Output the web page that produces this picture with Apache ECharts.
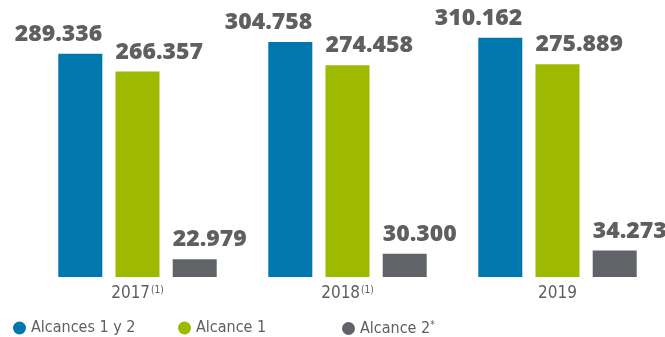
<!DOCTYPE html>
<html>
<head>
<meta charset="utf-8">
<script src="https://cdn.jsdelivr.net/npm/echarts@6/dist/echarts.min.js"></script>
<style>
  html, body { margin: 0; padding: 0; background: #ffffff; }
  #chart { width: 665px; height: 337px; }
</style>
</head>
<body>
<div id="chart"></div>
<script>
// Emissions by year, per scope (tCO2e)
const years = ['2017', '2018', '2019'];
const yearNotes = ['(1)', '(1)', ''];
const alcances12 = [289336, 304758, 310162];
const alcance1 = [266357, 274458, 275889];
const alcance2 = [22979, 30300, 34273];

const seriesNames = ['Alcances 1 y 2', 'Alcance 1', 'Alcance 2'];
const colors = ['#0077ad', '#9db900', '#606368'];
const textGrey = '#5e5f61';
const narrow = '"DejaVu Sans Condensed", "Liberation Sans Narrow", sans-serif';

// 289336 -> "289.336"
function fmt(v) {
  return String(v).replace(/\B(?=(\d{3})+(?!\d))/g, '.');
}

function valueLabel(align, dx) {
  return {
    show: true,
    position: 'top',
    distance: 8,
    align: align,
    offset: [dx, 0],
    color: textGrey,
    fontFamily: '"Open Sans", sans-serif',
    fontWeight: 800,
    fontSize: 23,
    formatter: p => fmt(p.value)
  };
}

function legendFor(name, left, withStar) {
  return {
    data: [name],
    left: left,
    top: 320,
    icon: 'circle',
    itemWidth: 13,
    itemHeight: 13,
    itemGap: 0,
    selectedMode: false,
    padding: 0,
    formatter: n => withStar ? n + '{sup|*}' : n,
    textStyle: {
      color: textGrey,
      fontFamily: narrow,
      fontSize: 16,
      rich: {
        sup: { fontSize: 10, verticalAlign: 'top', color: textGrey, fontFamily: narrow, padding: [0, 0, 7, 0] }
      }
    }
  };
}

const chart = echarts.init(document.getElementById('chart'), null, { renderer: 'canvas' });
chart.setOption({
  animation: false,
  color: colors,
  grid: { left: 32.5, right: 2.5, top: 7, bottom: 60 },
  legend: [
    legendFor(seriesNames[0], 13, false),
    legendFor(seriesNames[1], 178, false),
    legendFor(seriesNames[2], 342, true)
  ],
  xAxis: {
    type: 'category',
    data: years,
    axisLine: { show: false },
    axisTick: { show: false },
    axisLabel: {
      margin: 8,
      color: textGrey,
      fontFamily: narrow,
      fontSize: 17,
      formatter: (v, i) => yearNotes[i] ? v + '{sup|' + yearNotes[i] + '}' : v,
      rich: {
        sup: { fontSize: 10, verticalAlign: 'top', color: textGrey, fontFamily: narrow, padding: [0, 0, 7, 1] }
      }
    }
  },
  yAxis: {
    type: 'value',
    min: 0,
    max: 350000,
    show: false,
    splitLine: { show: false }
  },
  series: [
    { name: seriesNames[0], type: 'bar', data: alcances12, barWidth: 44, barGap: '30%', label: valueLabel('right', 22) },
    { name: seriesNames[1], type: 'bar', data: alcance1, barWidth: 44, barGap: '30%', label: valueLabel('left', -22) },
    { name: seriesNames[2], type: 'bar', data: alcance2, barWidth: 44, barGap: '30%', label: valueLabel('left', -22) }
  ]
});
</script>
</body>
</html>
